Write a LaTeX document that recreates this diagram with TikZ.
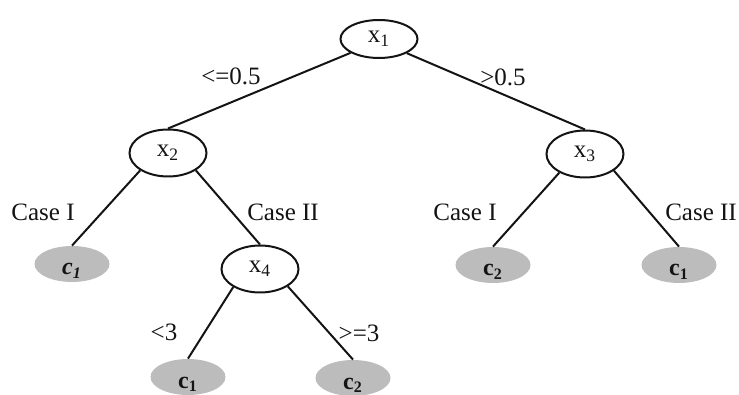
\documentclass[tikz,border=0pt]{standalone}
\usepackage{fontspec}
\setmainfont{Liberation Serif}
\usetikzlibrary{shapes.geometric}
\definecolor{DtBlack}{RGB}{20,20,20}
\definecolor{DtLeafGray}{RGB}{188,188,188}
\tikzset{
  dt/split/.style={
    ellipse,
    draw=DtBlack,
    line width=1pt,
    fill=white,
    inner sep=0pt,
    minimum width=38.5pt,
    minimum height=23.5pt,
    text=DtBlack,
    font=\fontsize{12.5}{15}\selectfont
  },
  dt/leaf/.style={
    ellipse,
    fill=DtLeafGray,
    inner sep=0pt,
    minimum width=37.5pt,
    minimum height=18pt,
    text height=11pt,
    text depth=0pt,
    text=DtBlack,
    font=\fontsize{12}{14}\selectfont\bfseries
  },
  dt/edge/.style={line width=1pt, draw=DtBlack},
  dt/cond/.style={font=\fontsize{12.5}{15}\selectfont, text=DtBlack, inner sep=0pt}
}
\begin{document}
\begin{tikzpicture}[x=0.5pt,y=-0.5pt]
  \useasboundingbox (0,0) rectangle (739,395);
  % inner tests
  \node[dt/split,minimum height=19pt] (x1) at (379,39) {x\textsubscript{1}};
  \node[dt/split] (x2) at (168,153) {x\textsubscript{2}};
  \node[dt/split] (x3) at (585,154) {x\textsubscript{3}};
  \node[dt/split] (x4) at (260,269) {x\textsubscript{4}};
  % class leaves
  \node[dt/leaf] (c1a) at (72,264) {\itshape c\textsubscript{1}};
  \node[dt/leaf] (c2a) at (493,265) {c\textsubscript{2}};
  \node[dt/leaf] (c1b) at (679,265) {c\textsubscript{1}};
  \node[dt/leaf] (c1c) at (188,377) {c\textsubscript{1}};
  \node[dt/leaf] (c2b) at (353,378) {c\textsubscript{2}};
  % branches
  \draw[dt/edge] (x1.206) -- (x2.north);
  \draw[dt/edge] (x1.333) -- (x3.north);
  \draw[dt/edge] (x2.212) -- (c1a.north);
  \draw[dt/edge] (x2.328) -- (x4.north);
  \draw[dt/edge] (x3.216) -- (c2a.north);
  \draw[dt/edge] (x3.330) -- (c1b.north);
  \draw[dt/edge] (x4.214) -- (c1c.north);
  \draw[dt/edge] (x4.328) -- (c2b.north);
  % branch conditions
  \node[dt/cond] (le05) at (231,76) {<=0.5};
  \node[dt/cond] (gt05) at (503,77) {>0.5};
  \node[dt/cond] (caseIa) at (43,212) {Case I};
  \node[dt/cond] (caseIIa) at (283,212) {Case II};
  \node[dt/cond] (caseIb) at (465,212) {Case I};
  \node[dt/cond] (caseIIb) at (701,212) {Case II};
  \node[dt/cond] (lt3) at (164,332) {<3};
  \node[dt/cond] (ge3) at (359,333) {>=3};
\end{tikzpicture}
\end{document}
